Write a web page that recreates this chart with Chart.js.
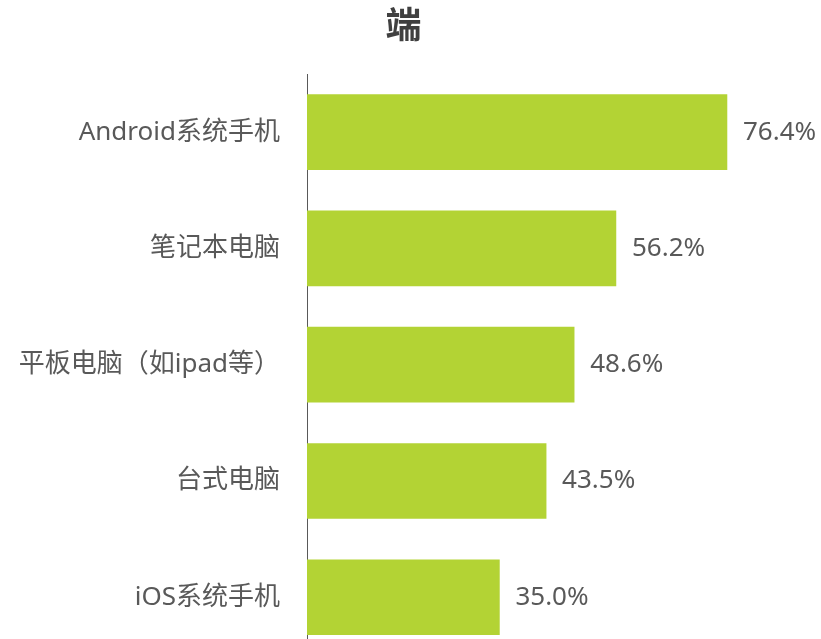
<!DOCTYPE html>
<html>
<head>
<meta charset="utf-8">
<script src="https://cdn.jsdelivr.net/npm/chart.js@4/dist/chart.umd.min.js"></script>
<style>
html,body{margin:0;padding:0;background:#fff;overflow:hidden;}
#wrap{width:821px;height:698px;}
</style>
</head>
<body>
<div id="wrap"><canvas id="c" width="821" height="698"></canvas></div>
<script>
const titleText = '端';
const categories = ['Android系统手机', '笔记本电脑', '平板电脑（如ipad等）', '台式电脑', 'iOS系统手机'];
const values = [76.4, 56.2, 48.6, 43.5, 35.0];

const FONT = '"Noto Sans", "Noto Sans CJK SC", sans-serif';
const TEXT = '#595959';

const valueLabels = {
  id: 'valueLabels',
  afterDatasetsDraw(chart) {
    const ctx = chart.ctx;
    const meta = chart.getDatasetMeta(0);
    ctx.save();
    ctx.font = '26px ' + FONT;
    ctx.fillStyle = TEXT;
    ctx.textAlign = 'left';
    ctx.textBaseline = 'middle';
    meta.data.forEach((bar, i) => {
      ctx.fillText(values[i].toFixed(1) + '%', bar.x + 16, bar.y);
    });
    ctx.restore();
  }
};

const titlePlugin = {
  id: 'topTitle',
  afterDraw(chart) {
    const ctx = chart.ctx;
    ctx.save();
    ctx.font = 'bold 36px ' + FONT;
    ctx.fillStyle = '#404040';
    ctx.textAlign = 'center';
    ctx.textBaseline = 'middle';
    ctx.fillText(titleText, chart.width / 2 - 7, 28);
    ctx.restore();
  }
};

new Chart(document.getElementById('c'), {
  type: 'bar',
  data: {
    labels: categories,
    datasets: [{
      data: values,
      backgroundColor: '#b3d334',
      borderWidth: 0,
      barThickness: 75
    }]
  },
  options: {
    indexAxis: 'y',
    responsive: false,
    animation: false,
    layout: { padding: { top: 74, right: 5, bottom: 0, left: 0 } },
    plugins: { legend: { display: false }, title: { display: false }, tooltip: { enabled: false } },
    scales: {
      x: { display: false, min: 0, max: 92.6 },
      y: {
        afterFit(scale) { scale.width = 307; },
        grid: { display: false, drawTicks: false },
        border: { display: true, color: '#595959', width: 1 },
        ticks: { color: TEXT, font: { size: 26, family: FONT }, padding: 27 }
      }
    }
  },
  plugins: [valueLabels, titlePlugin]
});
</script>
</body>
</html>
